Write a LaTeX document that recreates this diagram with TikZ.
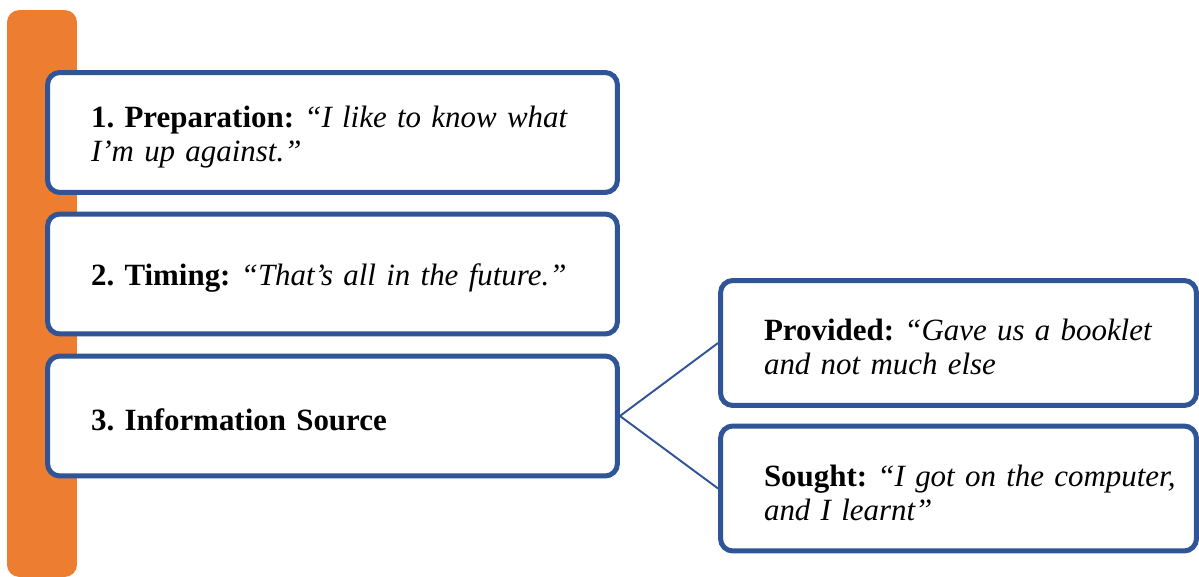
\documentclass[tikz,border=0pt]{standalone}
\usepackage{fontspec}
\setmainfont{Liberation Serif}
\usepackage{xcolor}
\usepackage{tikz}
\usetikzlibrary{positioning}

\definecolor{barorange}{HTML}{ED7D31}
\definecolor{boxblue}{HTML}{2F5597}

\begin{document}
\frenchspacing
\begin{tikzpicture}[
  x=0.02cm, y=-0.02cm,
  bar/.style={rectangle, fill=barorange, rounded corners=7pt,
              minimum width=1.4cm, minimum height=11.34cm, inner sep=0pt},
  stage/.style={rectangle, draw=boxblue, line width=2.85pt, fill=white,
                rounded corners=7pt, minimum width=11.4cm, minimum height=2.4cm,
                text width=11.3cm, inner xsep=0.05cm, align=left,
                font=\fontsize{17.6pt}{19.3pt}\selectfont,
                execute at begin node={\leftskip=0.82cm\hyphenpenalty=10000\rule{0pt}{17pt}}},
  src/.style={stage, minimum width=9.52cm, minimum height=2.5cm, text width=9.42cm},
  link/.style={draw=boxblue, line width=1.1pt}
]
\useasboundingbox (0,0) rectangle (1199,577);
\node[bar] (B) at (42, 293.5) {};
\node[stage] (P1) at (332.5, 132.5) {\textbf{1. Preparation:} \textit{``I like to know what\\I’m up against.''}};
\node[stage] (P2) at (332.5, 274)   {\textbf{2. Timing:} \textit{``That’s all in the future.''}};
\node[stage] (P3) at (332.5, 416)   {\textbf{3. Information Source}};
\node[src] (Prov)   at (958.5, 343)   {\textbf{Provided:} \textit{``Gave us a booklet\\and not much else}};
\node[src] (Sought) at (958.5, 488.5) {\textbf{Sought:} \textit{``I got on the computer,\\and I learnt''}};
\draw[link] (P3.east) -- (Prov.west);
\draw[link] (P3.east) -- (Sought.west);
\end{tikzpicture}
\end{document}
